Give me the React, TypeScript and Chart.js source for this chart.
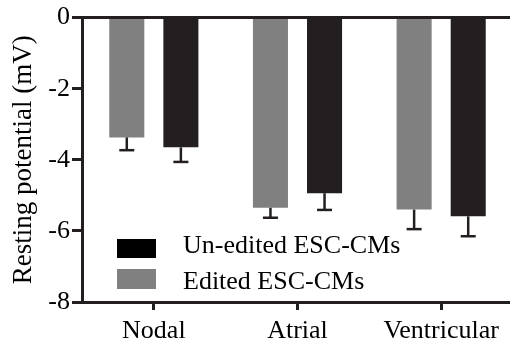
import React, { useEffect, useRef } from "react";
import { Chart, registerables } from "chart.js";

Chart.register(...registerables);

const categories = ["Nodal", "Atrial", "Ventricular"];
const editedValues = [-3.37, -5.35, -5.4];
const editedErrors = [0.36, 0.28, 0.55];
const uneditedValues = [-3.65, -4.94, -5.59];
const uneditedErrors = [0.41, 0.47, 0.56];
const legendLabels = ["Un-edited ESC-CMs", "Edited ESC-CMs"];
const yAxisTitle = "Resting potential (mV)";

const FONT = "'Liberation Serif', 'Times New Roman', serif";
const DARK = "#231f20";
const GRAY = "#808080";

const errorBarPlugin = {
  id: "errorBars",
  afterDatasetsDraw(chart: any) {
    const ctx = chart.ctx;
    const yScale = chart.scales.y;
    chart.data.datasets.forEach((ds: any, di: number) => {
      const meta = chart.getDatasetMeta(di);
      const errs: number[] = ds.errors || [];
      meta.data.forEach((bar: any, i: number) => {
        const v = ds.data[i];
        const e = errs[i];
        if (e == null) return;
        const yEnd = yScale.getPixelForValue(v - e);
        ctx.save();
        ctx.strokeStyle = DARK;
        ctx.lineWidth = 2.5;
        ctx.beginPath();
        ctx.moveTo(bar.x, bar.y);
        ctx.lineTo(bar.x, yEnd);
        ctx.stroke();
        ctx.beginPath();
        ctx.moveTo(bar.x - 7.5, yEnd);
        ctx.lineTo(bar.x + 7.5, yEnd);
        ctx.stroke();
        ctx.restore();
      });
    });
  },
};

export default function App() {
  const canvasRef = useRef<HTMLCanvasElement | null>(null);

  useEffect(() => {
    if (!canvasRef.current) return;
    const chart = new Chart(canvasRef.current, {
      type: "bar",
      data: {
        labels: categories,
        datasets: [
          {
            label: legendLabels[1],
            data: editedValues,
            errors: editedErrors,
            backgroundColor: GRAY,
            categoryPercentage: 0.753,
            barPercentage: 0.648,
          } as any,
          {
            label: legendLabels[0],
            data: uneditedValues,
            errors: uneditedErrors,
            backgroundColor: DARK,
            categoryPercentage: 0.753,
            barPercentage: 0.648,
          } as any,
        ],
      },
      options: {
        responsive: false,
        animation: false,
        devicePixelRatio: 1,
        layout: { padding: { top: 16, left: 0, right: 1, bottom: 0 } },
        plugins: {
          legend: { display: false },
          tooltip: { enabled: false },
        },
        scales: {
          x: {
            afterFit: (scale: any) => {
              scale.height = 40;
            },
            grid: {
              drawOnChartArea: false,
              offset: false,
              tickLength: 8,
              tickWidth: 3,
              tickColor: DARK,
              color: DARK,
            },
            border: { color: DARK, width: 3 },
            ticks: {
              color: "#000",
              font: { family: FONT, size: 26 },
              padding: 6,
              maxRotation: 0,
              autoSkip: false,
            },
          },
          y: {
            min: -8,
            max: 0,
            afterFit: (scale: any) => {
              scale.width = 82;
            },
            ticks: {
              stepSize: 2,
              color: "#000",
              font: { family: FONT, size: 26 },
              padding: 2,
            },
            grid: {
              color: (c: any) =>
                c.tick && c.tick.value === 0 ? DARK : "rgba(0,0,0,0)",
              lineWidth: 3,
              tickLength: 10,
              tickWidth: 3,
              tickColor: DARK,
            },
            border: { color: DARK, width: 3 },
            title: {
              display: true,
              text: yAxisTitle,
              color: "#000",
              font: { family: FONT, size: 27 },
              padding: { top: 8, bottom: 0 },
            },
          },
        },
      },
      plugins: [errorBarPlugin],
    });
    return () => chart.destroy();
  }, []);

  const textStyle: React.CSSProperties = {
    position: "absolute",
    left: 183,
    fontFamily: FONT,
    fontSize: 26,
    lineHeight: "26px",
    color: "#000",
    whiteSpace: "nowrap",
  };

  return (
    <div
      style={{
        position: "absolute",
        left: 0,
        top: 0,
        width: 510,
        height: 342,
        overflow: "hidden",
        background: "#fff",
      }}
    >
      <canvas
        ref={canvasRef}
        width={514}
        height={342}
        style={{ width: 514, height: 342, display: "block" }}
      />
      <div
        style={{
          position: "absolute",
          left: 117,
          top: 239,
          width: 39,
          height: 19,
          background: "#000",
        }}
      />
      <div
        style={{
          position: "absolute",
          left: 117,
          top: 269,
          width: 39,
          height: 20,
          background: GRAY,
        }}
      />
      <div style={{ ...textStyle, top: 232 }}>{legendLabels[0]}</div>
      <div style={{ ...textStyle, top: 268 }}>{legendLabels[1]}</div>
    </div>
  );
}
